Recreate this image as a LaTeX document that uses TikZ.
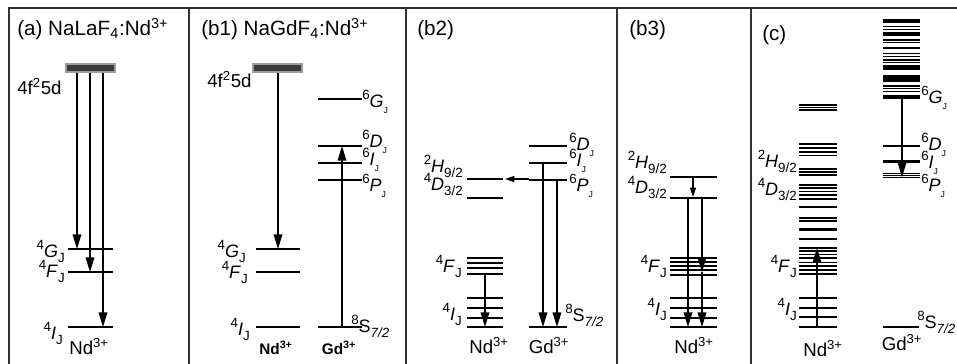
\documentclass[tikz,border=0pt]{standalone}
\usepackage{fontspec}
\setmainfont{Liberation Sans}
\usetikzlibrary{arrows.meta}
\definecolor{DGFrame}{HTML}{303030}
\definecolor{DGBar}{HTML}{3A3A3A}
\definecolor{DGBarEdge}{HTML}{9C9C9C}
\newcommand{\lv}[3]{\raisebox{5.5pt}{\fontsize{10}{10}\selectfont #1}\textit{#2}\raisebox{-4pt}{\fontsize{10}{10}\selectfont #3}}
\newcommand{\gv}[2]{\raisebox{5.5pt}{\fontsize{10}{10}\selectfont #1}\textit{#2}\raisebox{-5pt}{\fontsize{6.5}{6.5}\selectfont J}}
\newcommand{\sv}{\raisebox{5.5pt}{\fontsize{10}{10}\selectfont 8}S\raisebox{-4pt}{\fontsize{10}{10}\selectfont\textit{7/2}}}

\begin{document}
\begin{tikzpicture}[x=0.75pt,y=-0.75pt,
  lvl/.style={line width=1.1pt},
  trans/.style={line width=1.1pt,-{Triangle[length=11pt,width=6.5pt]}},
  strans/.style={line width=1.1pt,-{Triangle[length=7pt,width=4.5pt]}},
  ttl/.style={anchor=base west,inner sep=0pt,font=\fontsize{15.5}{17}\selectfont},
  lbl/.style={inner sep=0pt,font=\fontsize{13.5}{15}\selectfont},
  ion/.style={anchor=base,inner sep=0pt,font=\fontsize{14}{16}\selectfont}]
\path[use as bounding box] (0,0) rectangle (957,364);
\draw[DGFrame,line width=1.5pt] (9,364) -- (9,8) -- (957,8);
\foreach \xd in {189,406,617,751} \draw[DGFrame,line width=1.5pt] (\xd,8) -- (\xd,364);

\node[ttl] (ta) at (17,35) {(a) NaLaF\textsubscript{4}:Nd\textsuperscript{3+}};
\draw[DGBarEdge,fill=DGBar,line width=1.2pt] (66,64) rectangle (115,72);
\node[lbl,anchor=base west,font=\fontsize{14}{16}\selectfont] (fda) at (17,94) {4f\textsuperscript{2}5d};
\draw[lvl] (68,249) -- (113,249);
\draw[lvl] (68,272) -- (113,272);
\draw[lvl] (68,327) -- (113,327);
\draw[trans] (77,73) -- (77,249);
\draw[trans] (90,73) -- (90,272);
\draw[trans] (103,73) -- (103,327);
\node[lbl,anchor=base east] (ga) at (65,257) {\lv{4}{G}{J}};
\node[lbl,anchor=base east] (fa) at (65,277) {\lv{4}{F}{J}};
\node[lbl,anchor=base east] (ia) at (63,339) {\lv{4}{I}{J}};
\node[ion] (nda) at (89,354) {Nd\textsuperscript{3+}};

\node[ttl] (tb1) at (201,35) {(b1) NaGdF\textsubscript{4}:Nd\textsuperscript{3+}};
\draw[DGBarEdge,fill=DGBar,line width=1.2pt] (253,64) rectangle (302,72);
\node[lbl,anchor=base west,font=\fontsize{14}{16}\selectfont] (fdb1) at (207,87) {4f\textsuperscript{2}5d};
\draw[lvl] (256,249) -- (300,249);
\draw[lvl] (256,272) -- (300,272);
\draw[lvl] (256,327) -- (300,327);
\draw[trans] (278,73) -- (278,249);
\draw[lvl] (318,99) -- (362,99);
\draw[lvl] (318,146) -- (362,146);
\draw[lvl] (318,163) -- (362,163);
\draw[lvl] (318,180) -- (362,180);
\draw[lvl] (318,327) -- (362,327);
\draw[trans] (342,327) -- (342,146);
\node[lbl,anchor=base east] (gb1) at (246,257) {\lv{4}{G}{J}};
\node[lbl,anchor=base east] (fb1) at (248,278) {\lv{4}{F}{J}};
\node[lbl,anchor=base east] (ib1) at (250,335) {\lv{4}{I}{J}};
\node[lbl,anchor=base west] (ggb1) at (362,107) {\gv{6}{G}};
\node[lbl,anchor=base west] (gdb1) at (362,147) {\gv{6}{D}};
\node[lbl,anchor=base west] (gib1) at (362,165) {\gv{6}{I}};
\node[lbl,anchor=base west] (gpb1) at (362,191) {\gv{6}{P}};
\node[lbl,anchor=base west] (gsb1) at (351,332) {\sv};
\node[ion,font=\fontsize{11.5}{13}\selectfont\bfseries] (ndb1) at (276,354) {Nd\textsuperscript{3+}};
\node[ion,font=\fontsize{11.5}{13}\selectfont\bfseries] (gdib1) at (339,354) {Gd\textsuperscript{3+}};

\node[ttl] (tb2) at (417,35) {(b2)};
\draw[lvl] (467,179) -- (503,179);
\draw[lvl] (467,198) -- (503,198);
\foreach \y in {258,263,268,274,298,308,318,327} \draw[lvl] (467,\y) -- (503,\y);
\draw[lvl] (529,146) -- (567,146);
\draw[lvl] (529,163) -- (567,163);
\draw[lvl] (529,180) -- (567,180);
\draw[lvl] (529,327) -- (567,327);
\draw[strans] (529,179) -- (505,179);
\draw[trans] (543,163) -- (543,327);
\draw[trans] (557,180) -- (557,327);
\draw[trans] (485,274) -- (485,327);
\node[lbl,anchor=base east] (hb2) at (463,172) {\lv{2}{H}{9/2}};
\node[lbl,anchor=base east] (db2) at (463,190) {\lv{4}{D}{3/2}};
\node[lbl,anchor=base east] (fb2) at (462,272) {\lv{4}{F}{J}};
\node[lbl,anchor=base east] (ib2) at (462,320) {\lv{4}{I}{J}};
\node[lbl,anchor=base west] (gdb2) at (569,150) {\gv{6}{D}};
\node[lbl,anchor=base west] (gib2) at (569,166) {\gv{6}{I}};
\node[lbl,anchor=base west] (gpb2) at (569,191) {\gv{6}{P}};
\node[lbl,anchor=base west] (gsb2) at (565,321) {\sv};
\node[ion] (ndb2) at (489,353) {Nd\textsuperscript{3+}};
\node[ion] (gdib2) at (549,353) {Gd\textsuperscript{3+}};

\node[ttl] (tb3) at (629,35) {(b3)};
\draw[lvl] (670,177) -- (717,177);
\draw[lvl] (670,198) -- (717,198);
\foreach \y in {258,262,266,270,275,298,308,318,327} \draw[lvl] (670,\y) -- (717,\y);
\draw[strans] (693,177) -- (693,197);
\draw[trans] (688,198) -- (688,327);
\draw[trans] (702,198) -- (702,272);
\draw[trans] (702,272) -- (702,327);
\node[lbl,anchor=base east] (hb3) at (667,168) {\lv{2}{H}{9/2}};
\node[lbl,anchor=base east] (db3) at (667,193) {\lv{4}{D}{3/2}};
\node[lbl,anchor=base east] (fb3) at (667,272) {\lv{4}{F}{J}};
\node[lbl,anchor=base east] (ib3) at (667,315) {\lv{4}{I}{J}};
\node[ion] (ndb3) at (694,353) {Nd\textsuperscript{3+}};

\node[ttl] (tc) at (762,40) {(c)};
\foreach \y/\w in {105/0.8,107.5/0.8,110/0.8,144/1.1,148/0.9,152/0.9,155.5/1.1,169/1.1,172/0.9,175/1.1,
  185/1.5,188/0.9,191.5/1.1,195/1.1,198.5/1.5,207/1.1,218/1.1,221/1.1,229.5/2.4,239/2.2,
  248/1.1,251/0.9,254.5/0.9,258/1.1,262.5/1.1,266/0.9,270/1.1,274/1.1,298/1.1,308/1.1,317/1.1,327/1.1}
  \draw[line width=\w pt] (799,\y) -- (837,\y);
\foreach \y/\w in {21/2.5,26.7/0.9,29.3/0.9,33.8/3.2,40/0.9,42.7/0.9,48/2,53.3/0.9,56.7/0.9,60/0.9,62.7/0.9,
  67.5/3.7,78.3/5,86/0.9,88.3/0.9,91.7/1.1,97/3.2,146/1.5,161.5/2.6,173.5/0.9,175.5/0.9,177.5/0.9}
  \draw[line width=\w pt] (883,\y) -- (920,\y);
\draw[lvl] (883,327) -- (919,327);
\draw[trans] (817,327) -- (817,248);
\draw[trans] (902,99) -- (902,177);
\node[lbl,anchor=base east] (hc) at (797,167) {\lv{2}{H}{9/2}};
\node[lbl,anchor=base east] (dc) at (797,195) {\lv{4}{D}{3/2}};
\node[lbl,anchor=base east] (fc) at (797,272) {\lv{4}{F}{J}};
\node[lbl,anchor=base east] (ic) at (797,315) {\lv{4}{I}{J}};
\node[lbl,anchor=base west] (ggc) at (921,103) {\gv{6}{G}};
\node[lbl,anchor=base west] (gdc) at (921,150) {\gv{6}{D}};
\node[lbl,anchor=base west] (gic) at (921,168) {\gv{6}{I}};
\node[lbl,anchor=base west] (gpc) at (921,191) {\gv{6}{P}};
\node[lbl,anchor=base west] (gsc) at (917,328) {\sv};
\node[ion] (ndc) at (823,356) {Nd\textsuperscript{3+}};
\node[ion] (gdic) at (902,350) {Gd\textsuperscript{3+}};
\end{tikzpicture}
\end{document}
